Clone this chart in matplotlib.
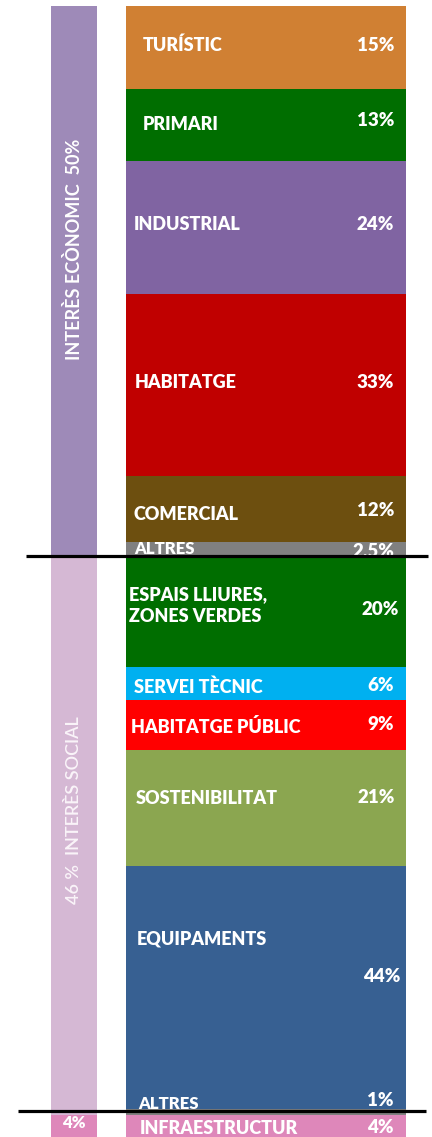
import numpy as np
import matplotlib.pyplot as plt

# Shares per land-use category, grouped by interest type
econ_labels = ["TURÍSTIC", "PRIMARI", "INDUSTRIAL", "HABITATGE", "COMERCIAL", "ALTRES"]
econ_values = [15, 13, 24, 33, 12, 2.5]
econ_texts = ["15%", "13%", "24%", "33%", "12%", "2.5%"]

social_labels = ["ESPAIS LLIURES,\nZONES VERDES", "SERVEI TÈCNIC", "HABITATGE PÚBLIC",
                 "SOSTENIBILITAT", "EQUIPAMENTS", "ALTRES"]
social_values = [20, 6, 9, 21, 44, 1]
social_texts = ["20%", "6%", "9%", "21%", "44%", "1%"]

infra_labels = ["INFRAESTRUCTUR"]
infra_values = [4]
infra_texts = ["4%"]

group_titles = ["INTERÈS ECÒNOMIC  50%", "46 %  INTERÈS SOCIAL", "4%"]

# Styling
seg_colors = ["#D08033", "#006E00", "#8064A2", "#C00000", "#6D4F0F", "#808080",
              "#006E00", "#00B0F0", "#FF0000", "#8BA650", "#376092", "#808080",
              "#DE87BA"]
group_colors = ["#9E8AB8", "#D5B8D4", "#DE87BA"]

# label placement: left x of name (px), right x of value (px), vertical nudges (px, +down)
name_x = [143, 143, 134, 135, 134, 134, 129, 134, 131, 136, 137, 138, 140]
value_x = [394, 394, 394, 394, 394, 394, 399, 394, 394, 395, 400, 394, 394]
name_dy = [-2, 0, -3, -2, 5, 0, -6, 4, 2, -9, -49, -8, 3]
value_dy = [-2, -4, -3, -2, 1, 2, -2, 2, 0, -10, -11, -12, 2]
name_size = [13, 13, 13, 13, 13, 12, 13, 13, 13, 13, 13, 12, 13]

plt.rcParams["font.family"] = ["Lato", "DejaVu Sans"]

fig = plt.figure(figsize=(4.32, 11.37), dpi=100)
ax = fig.add_axes([0, 0, 1, 1])

labels = econ_labels + social_labels + infra_labels
values = econ_values + social_values + infra_values
texts = econ_texts + social_texts + infra_texts
groups = [econ_values, social_values, infra_values]

bottoms = np.concatenate([[0], np.cumsum(values)[:-1]])
total = float(np.sum(values))

top_pad = 6 / 1137 * total
ax.set_xlim(0, 432)
ax.set_ylim(total, -top_pad)
ax.axis("off")

# main stacked column
ax.bar(266, values, bottom=bottoms, width=280, color=seg_colors, linewidth=0, zorder=1)

# group column on the left
group_sums = [float(np.sum(g)) for g in groups]
group_bottoms = np.concatenate([[0], np.cumsum(group_sums)[:-1]])
ax.bar(74, group_sums, bottom=group_bottoms, width=46, color=group_colors,
       linewidth=0, zorder=1)

for i, (lab, val, txt) in enumerate(zip(labels, values, texts)):
    yc = bottoms[i] + val / 2
    ax.annotate(lab, xy=(name_x[i], yc), xytext=(0, -name_dy[i]),
                textcoords="offset pixels", ha="left", va="center",
                color="white", fontsize=name_size[i], fontweight="heavy",
                linespacing=1.3, zorder=3)
    ax.annotate(txt, xy=(value_x[i], yc), xytext=(0, -value_dy[i]),
                textcoords="offset pixels", ha="right", va="center",
                color="white", fontsize=13.5, fontweight="heavy", zorder=3)

# group titles, rotated along the left column
ax.annotate(group_titles[0], xy=(74, group_bottoms[0] + group_sums[0] / 2),
            xytext=(0, 32), textcoords="offset pixels",
            rotation=90, ha="center", va="center", color="white",
            fontsize=13, fontweight="bold", zorder=3)
ax.annotate(group_titles[1], xy=(74, group_bottoms[1] + group_sums[1] / 2),
            xytext=(0, 25), textcoords="offset pixels",
            rotation=90, ha="center", va="center", color="#FAF4F9",
            fontsize=13, fontweight="semibold", zorder=3)
ax.text(74, group_bottoms[2] + group_sums[2] / 2 - 0.5, group_titles[2],
        ha="center", va="center", color="white",
        fontsize=12, fontweight="heavy", zorder=3)

# separators between groups
ax.plot([26, 428], [group_bottoms[1]] * 2, color="black", lw=2.3, zorder=4,
        solid_capstyle="butt")
ax.plot([18, 426], [group_bottoms[2] - 0.7] * 2, color="black", lw=2.3, zorder=4,
        solid_capstyle="butt")

fig.savefig("out.png", dpi=100)
